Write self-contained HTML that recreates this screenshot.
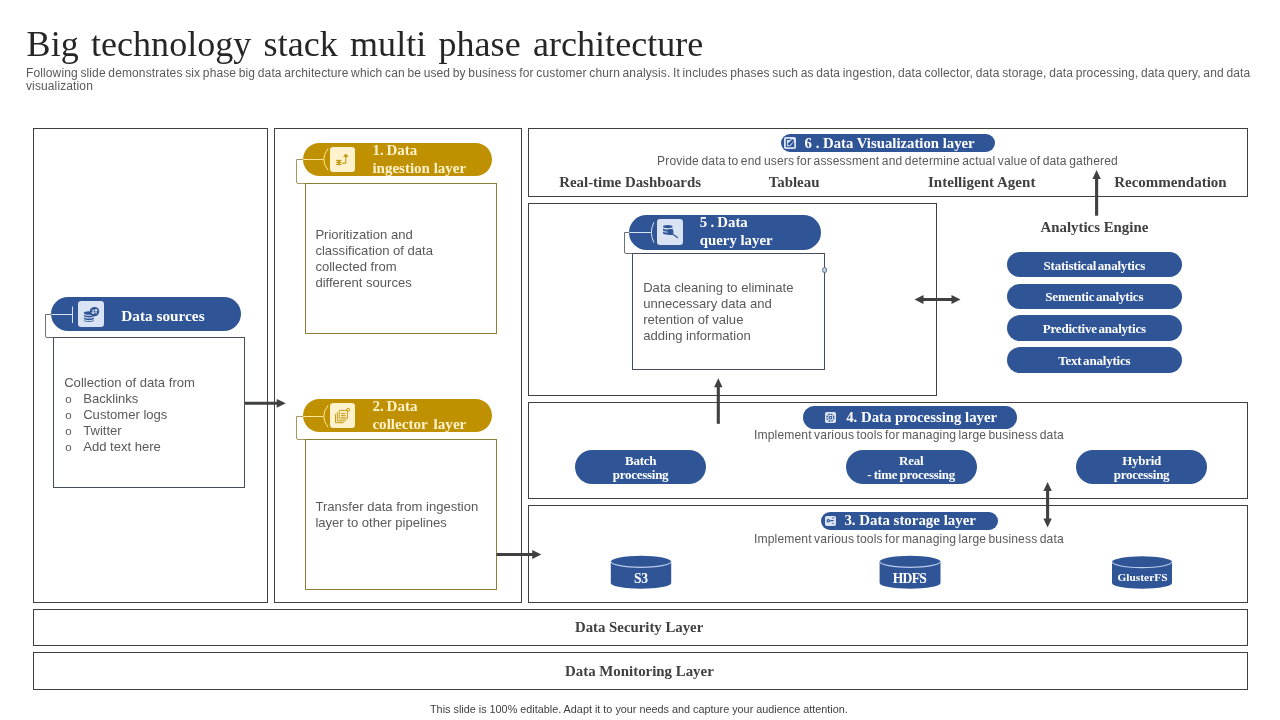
<!DOCTYPE html>
<html lang="en">
<head>
<meta charset="utf-8">
<title>Big technology stack multi phase architecture</title>
<style>
html,body{margin:0;padding:0;background:#fff}
body{width:1280px;height:720px;position:relative;overflow:hidden}
#slide{position:absolute;left:0;top:0;width:1280px;height:720px;background:#fff;overflow:hidden}
#slide div{position:absolute;box-sizing:border-box;white-space:nowrap}
#txt{left:0;top:0;width:1280px;height:720px;will-change:transform}
.ov{position:absolute;left:0;top:0;pointer-events:none}
.fr{border:1px solid #404040}
.cb{background:#fff}
.sl{border:1px solid #454D58}
.gd{border:1px solid #8F7E38}
.pill{border-radius:999px}
.b{background:#2F5597}
.g{background:#BF9000}
.tile{border-radius:3.2px}
.tile.s{border-radius:1.8px}
.tb{background:#DAE3F3}
.tg{background:#FFF2CC}
.title{font-family:"Liberation Serif", "Times New Roman", serif;color:#262626}
.sub{font-family:"Liberation Sans", Arial, sans-serif;color:#595959}
.h{font-family:"Liberation Serif", "Times New Roman", serif;font-weight:bold}
.w{color:#fff}
.c{color:#FFF2CC}
.n{word-spacing:-1px}
.m{word-spacing:-0.5px}
.d{color:#404040}
.body{font-family:"Liberation Sans", Arial, sans-serif;color:#595959}
.body ul{margin:0;padding:0;list-style:none}
.body li{position:relative;padding-left:19px}
.bu{position:absolute;left:1px;top:0;font-size:11.5px}
.desc{font-family:"Liberation Sans", Arial, sans-serif;color:#595959}
.foot{font-family:"Liberation Sans", Arial, sans-serif;color:#404040}
</style>
</head>
<body>
<div id="slide">
<div class="fr" style="left:33px;top:128px;width:235px;height:475px;"></div>
<div class="fr" style="left:274px;top:128px;width:248px;height:475px;"></div>
<div class="fr" style="left:528px;top:128px;width:720px;height:69px;"></div>
<div class="fr" style="left:528px;top:203px;width:409px;height:193px;"></div>
<div class="fr" style="left:528px;top:402px;width:720px;height:97px;"></div>
<div class="fr" style="left:528px;top:505px;width:720px;height:98px;"></div>
<div class="fr" style="left:33px;top:609px;width:1215px;height:37px;"></div>
<div class="fr" style="left:33px;top:652px;width:1215px;height:38px;"></div>
<div class="cb sl" style="left:53px;top:337px;width:192px;height:151px;"></div>
<div class="cb gd" style="left:305px;top:183px;width:192px;height:150.5px;"></div>
<div class="cb gd" style="left:305px;top:439px;width:192px;height:150.5px;"></div>
<div class="cb sl" style="left:632px;top:253px;width:193px;height:116.5px;"></div>
<div class="pill b" style="left:51.25px;top:297.25px;width:189.5px;height:33.35px;"></div>
<div class="pill g" style="left:303.1px;top:143.1px;width:188.9px;height:32.5px;"></div>
<div class="pill g" style="left:303.1px;top:399.1px;width:188.9px;height:33.4px;"></div>
<div class="pill b" style="left:629.25px;top:215px;width:191.5px;height:35px;"></div>
<div class="pill b" style="left:781.2px;top:134.3px;width:213.8px;height:17.5px;"></div>
<div class="pill b" style="left:803.2px;top:406.2px;width:213.8px;height:22.5px;"></div>
<div class="pill b" style="left:821.25px;top:512px;width:176.75px;height:17.8px;"></div>
<div class="pill b" style="left:575px;top:450px;width:131.25px;height:33.75px;"></div>
<div class="pill b" style="left:845.75px;top:450px;width:131.25px;height:33.75px;"></div>
<div class="pill b" style="left:1076.25px;top:450px;width:130.75px;height:33.75px;"></div>
<div class="pill b" style="left:1007px;top:252.2px;width:175px;height:24.7px;"></div>
<div class="pill b" style="left:1007px;top:284.25px;width:175px;height:24.5px;"></div>
<div class="pill b" style="left:1007px;top:315.2px;width:175px;height:25.4px;"></div>
<div class="pill b" style="left:1007px;top:347.2px;width:175px;height:25.8px;"></div>
<div class="tile tb" style="left:77.9px;top:301px;width:26.2px;height:26.1px;"></div>
<div class="tile tg" style="left:330px;top:147px;width:25px;height:25.1px;"></div>
<div class="tile tg" style="left:330px;top:403px;width:25px;height:25px;"></div>
<div class="tile tb" style="left:657.1px;top:219.1px;width:25.9px;height:25.8px;"></div>
<div class="tile tb s" style="left:784.1px;top:137.2px;width:11.8px;height:11.6px;"></div>
<div class="tile tb s" style="left:824.9px;top:412.2px;width:11.1px;height:10.9px;"></div>
<div class="tile tb s" style="left:825px;top:515.5px;width:10.8px;height:10.5px;"></div>
<svg class="ov" width="1280" height="720" viewBox="0 0 1280 720">
<path d="M51.75,314.5 H45.5 V336 Q45.5,337.5 47,337.5 H54" fill="none" stroke="#454D58" stroke-width="1" stroke-opacity="0.8"/>
<path d="M51.25,314.5 H72.5" fill="none" stroke="#DAE3F3" stroke-width="1"/>
<path d="M72.5,306.5 V323" fill="none" stroke="#DAE3F3" stroke-width="1"/>
<path d="M303.6,159.5 H296.5 V182 Q296.5,183.5 298,183.5 H306" fill="none" stroke="#8F7E38" stroke-width="1" stroke-opacity="0.8"/>
<path d="M303.1,159.5 H323.8" fill="none" stroke="#FFE699" stroke-width="1"/>
<path d="M328,148.7 Q319.6,159.45 328,170.2" fill="none" stroke="#FFE699" stroke-width="1"/>
<path d="M303.6,416.5 H296.5 V438 Q296.5,439.5 298,439.5 H306" fill="none" stroke="#8F7E38" stroke-width="1" stroke-opacity="0.8"/>
<path d="M303.1,416.5 H323.8" fill="none" stroke="#FFE699" stroke-width="1"/>
<path d="M328,405.5 Q319.6,416.35 328,427.2" fill="none" stroke="#FFE699" stroke-width="1"/>
<path d="M629.75,232.5 H624.5 V252 Q624.5,253.5 626,253.5 H633" fill="none" stroke="#454D58" stroke-width="1" stroke-opacity="0.8"/>
<path d="M629.25,232.5 H651.4" fill="none" stroke="#DAE3F3" stroke-width="1"/>
<path d="M653.9,222.3 Q648.9,232.45 653.9,242.6" fill="none" stroke="#DAE3F3" stroke-width="1"/>
<ellipse cx="824.6" cy="270.1" rx="2" ry="2.6" fill="#BDD7EE" stroke="#44546A" stroke-width="0.8"/>
<path d="M245,403.3 H277.75" stroke="#404040" stroke-width="3" fill="none"/>
<path d="M285.75,403.3 L276.75,398.9 V407.7 Z" fill="#404040"/>
<path d="M496.5,554.5 H533.25" stroke="#404040" stroke-width="3" fill="none"/>
<path d="M541.25,554.5 L532.25,550.1 V558.9 Z" fill="#404040"/>
<path d="M718.3,386.2 V423.8" stroke="#404040" stroke-width="3.1" fill="none"/>
<path d="M718.3,378.2 L714.1,387.2 H722.5 Z" fill="#404040"/>
<path d="M1096.6,178 V215.7" stroke="#404040" stroke-width="3.1" fill="none"/>
<path d="M1096.6,170 L1092.4,179 H1100.8 Z" fill="#404040"/>
<path d="M922.5,299.5 H952.5" stroke="#404040" stroke-width="3" fill="none"/>
<path d="M960.5,299.5 L951.5,295.1 V303.9 Z" fill="#404040"/>
<path d="M914.5,299.5 L923.5,295.1 V303.9 Z" fill="#404040"/>
<path d="M1047.6,490 V519.6" stroke="#404040" stroke-width="3.1" fill="none"/>
<path d="M1047.6,482 L1043.4,491 H1051.8 Z" fill="#404040"/>
<path d="M1047.6,527.6 L1043.4,518.6 H1051.8 Z" fill="#404040"/>
<path d="M610.8,561.7 A30.2,5.9 0 0 1 671.2,561.7 V582.9 A30.2,5.9 0 0 1 610.8,582.9 Z" fill="#2F5597"/>
<path d="M611.2,561.7 A29.8,5.6 0 0 0 670.8,561.7" fill="none" stroke="#B9CCEC" stroke-width="1.15"/>
<path d="M879.6,561.7 A30.45,5.9 0 0 1 940.5,561.7 V582.9 A30.45,5.9 0 0 1 879.6,582.9 Z" fill="#2F5597"/>
<path d="M880,561.7 A30.05,5.6 0 0 0 940.1,561.7" fill="none" stroke="#B9CCEC" stroke-width="1.15"/>
<path d="M1112,562.1 A30,5.9 0 0 1 1172,562.1 V582.9 A30,5.9 0 0 1 1112,582.9 Z" fill="#2F5597"/>
<path d="M1112.4,562.1 A29.6,5.6 0 0 0 1171.6,562.1" fill="none" stroke="#B9CCEC" stroke-width="1.15"/>
<g fill="#2F5597"><ellipse cx="88.9" cy="313" rx="5" ry="1.8"/><path d="M83.9,314.2 v1.6 c0,2.3 10,2.3 10,0 v-1.6 c0,2.2 -10,2.2 -10,0z"/><path d="M83.9,316.9 v1.6 c0,2.3 10,2.3 10,0 v-1.6 c0,2.2 -10,2.2 -10,0z"/><path d="M83.9,319.6 v0.6 c0,2.3 10,2.3 10,0 v-0.6 c0,2.2 -10,2.2 -10,0z"/><circle cx="94.5" cy="311.6" r="4.7"/></g><path d="M93.1,309.4 V313.6 M91.8,312.3 L93.1,313.8 L94.4,312.3 M96,313.8 V309.5 M94.7,310.9 L96,309.3 L97.3,310.9" stroke="#fff" stroke-width="1" fill="none"/>
<g stroke="#BF9000" fill="none" stroke-width="1"><path d="M336.2,160.4 h5.2 M336.2,162.4 h5.2 M336.2,164.6 h5.2 M337.2,160 l3.2,5 M340.4,160 l-3.2,5"/><path d="M342,163.2 h3.8 V155 M343.5,156.9 L345.8,154.4 L348.1,156.9" stroke-width="1"/><circle cx="345.8" cy="155.8" r="1.2"/></g>
<g stroke="#BF9000" fill="none" stroke-width="0.9"><rect x="339.2" y="410.4" width="8.2" height="8.6" rx="0.8"/><path d="M337.3,412.3 V420.9 H345.6 M335.5,414.2 V422.7 H343.8 M341,413.4 h4.6 M341,415.4 h4.6 M341,417.3 h4.6"/><circle cx="348.1" cy="409.9" r="1.5"/></g>
<g fill="#2F5597"><ellipse cx="667.8" cy="226.6" rx="4.8" ry="1.7"/><path d="M663,227.9 v2 c0,2.2 9.6,2.2 9.6,0 v-2 c0,2.1 -9.6,2.1 -9.6,0z"/><path d="M663,231.1 v2 c0,2.2 9.6,2.2 9.6,0 v-2 c0,2.1 -9.6,2.1 -9.6,0z"/><circle cx="670.4" cy="232" r="3.1"/></g><path d="M672.4,233.9 L677.6,237.6" stroke="#2F5597" stroke-width="1.2" stroke-linecap="round"/>
<g stroke="#2F5597" fill="none"><path d="M790.4,139.4 H786.4 V146.7 H793.7 V142.8" stroke-width="1.1"/><path d="M788.3,144.9 L793.3,139.9" stroke-width="2.6"/></g><path d="M789.8,146.9 H793.9 V141.6 Z" fill="#2F5597"/>
<g stroke="#2F5597" fill="none"><circle cx="830.4" cy="417.6" r="3.5" stroke-width="1.3" stroke-dasharray="1.7 1.05"/><circle cx="830.4" cy="417.6" r="1.4" stroke-width="1.1"/></g>
<g stroke="#2F5597" fill="none" stroke-width="1.2"><circle cx="828.3" cy="520.7" r="1.2"/><path d="M830.3,520.7 H833.6 M832.4,517.9 h1.3 M832.4,523.5 h1.3"/></g>
</svg>
<div id="txt">
<div class="title" style="top:22px;font-size:36px;line-height:44px;letter-spacing:0.03px;word-spacing:3.3px;left:26.6px;">Big technology stack multi phase architecture</div>
<div class="sub" style="top:66.75px;font-size:12px;line-height:13px;letter-spacing:0.12px;word-spacing:-0.8px;left:26px;">Following slide demonstrates six phase big data architecture which can be used by business for customer churn analysis. It includes phases such as data ingestion, data collector, data storage, data processing, data query, and data<br>visualization</div>
<div class="h w" style="top:306.75px;font-size:15.3px;line-height:18px;left:121.2px;">Data sources</div>
<div class="h c" style="top:141px;font-size:15px;line-height:18px;left:372.4px;"><span class="n">1. Data</span><br>ingestion layer</div>
<div class="h c" style="top:397px;font-size:15.1px;line-height:18px;word-spacing:2.4px;left:372.4px;"><span class="n">2. Data</span><br>collector layer</div>
<div class="h w" style="top:213px;font-size:14.8px;line-height:18px;left:699.8px;"><span class="m">5 . Data</span><br>query layer</div>
<div class="h w" style="top:134px;font-size:14.75px;line-height:18px;left:804.6px;">6 . Data Visualization layer</div>
<div class="h w" style="top:408px;font-size:14.8px;line-height:18px;left:846.2px;">4. Data processing layer</div>
<div class="h w" style="top:511px;font-size:14.9px;line-height:18px;left:844.4px;">3. Data storage layer</div>
<div class="body" style="top:374.75px;font-size:13.07px;line-height:16px;left:64.2px;">Collection of data from<ul><li><span class="bu">o</span>Backlinks</li><li><span class="bu">o</span>Customer logs</li><li><span class="bu">o</span>Twitter</li><li><span class="bu">o</span>Add text here</li></ul></div>
<div class="body" style="top:226.75px;font-size:13.07px;line-height:16px;left:315.4px;">Prioritization and<br>classification of data<br>collected from<br>different sources</div>
<div class="body" style="top:498.75px;font-size:13.07px;line-height:16px;left:315.4px;">Transfer data from ingestion<br>layer to other pipelines</div>
<div class="body" style="top:279.75px;font-size:13.07px;line-height:16px;left:643.2px;">Data cleaning to eliminate<br>unnecessary data and<br>retention of value<br>adding information</div>
<div class="desc" style="top:154px;font-size:12.04px;line-height:14px;letter-spacing:0.15px;word-spacing:-0.97px;left:587.5px;width:600px;text-align:center;">Provide data to end users for assessment and determine actual value of data gathered</div>
<div class="desc" style="top:428px;font-size:12.1px;line-height:14px;letter-spacing:0.15px;word-spacing:-1.2px;left:608.9px;width:600px;text-align:center;">Implement various tools for managing large business data</div>
<div class="desc" style="top:532px;font-size:12.1px;line-height:14px;letter-spacing:0.15px;word-spacing:-1.2px;left:608.9px;width:600px;text-align:center;">Implement various tools for managing large business data</div>
<div class="h d" style="top:173px;font-size:14.9px;line-height:18px;left:559.2px;">Real-time Dashboards</div>
<div class="h d" style="top:173px;font-size:14.9px;line-height:18px;left:768.7px;">Tableau</div>
<div class="h d" style="top:173px;font-size:15.05px;line-height:18px;left:928px;">Intelligent Agent</div>
<div class="h d" style="top:173px;font-size:15px;line-height:18px;left:1114.2px;">Recommendation</div>
<div class="h d" style="top:218px;font-size:14.85px;line-height:18px;left:1040.6px;">Analytics Engine</div>
<div class="h d" style="top:618px;font-size:14.8px;line-height:18px;left:575px;">Data Security Layer</div>
<div class="h d" style="top:662px;font-size:14.88px;line-height:18px;left:565px;">Data Monitoring Layer</div>
<div class="h w" style="top:258px;font-size:13px;line-height:15px;letter-spacing:-0.2px;word-spacing:-1.4px;left:794.3px;width:600px;text-align:center;">Statistical analytics</div>
<div class="h w" style="top:289px;font-size:13px;line-height:15px;letter-spacing:-0.2px;word-spacing:-1.4px;left:794.3px;width:600px;text-align:center;">Sementic analytics</div>
<div class="h w" style="top:321px;font-size:13px;line-height:15px;letter-spacing:-0.2px;word-spacing:-1.4px;left:794.3px;width:600px;text-align:center;">Predictive analytics</div>
<div class="h w" style="top:353px;font-size:13px;line-height:15px;letter-spacing:-0.2px;word-spacing:-1.4px;left:794.3px;width:600px;text-align:center;">Text analytics</div>
<div class="h w" style="top:453.75px;font-size:13px;line-height:14px;letter-spacing:-0.28px;word-spacing:-0.6px;left:340.6px;width:600px;text-align:center;">Batch<br>processing</div>
<div class="h w" style="top:453.75px;font-size:13px;line-height:14px;letter-spacing:-0.28px;word-spacing:-0.6px;left:611.2px;width:600px;text-align:center;">Real<br>- time processing</div>
<div class="h w" style="top:453.75px;font-size:13px;line-height:14px;letter-spacing:-0.28px;word-spacing:-0.6px;left:841.6px;width:600px;text-align:center;">Hybrid<br>processing</div>
<div class="h w" style="top:571px;font-size:13.6px;line-height:15px;letter-spacing:-0.5px;left:340.8px;width:600px;text-align:center;">S3</div>
<div class="h w" style="top:571px;font-size:13.6px;line-height:15px;letter-spacing:-0.7px;left:609.4px;width:600px;text-align:center;">HDFS</div>
<div class="h w" style="top:570px;font-size:11.4px;line-height:14px;left:842.5px;width:600px;text-align:center;">GlusterFS</div>
<div class="foot" style="top:702.75px;font-size:10.83px;line-height:13px;left:430px;">This slide is 100% editable. Adapt it to your needs and capture your audience attention.</div>
</div>
</div>
</body>
</html>
